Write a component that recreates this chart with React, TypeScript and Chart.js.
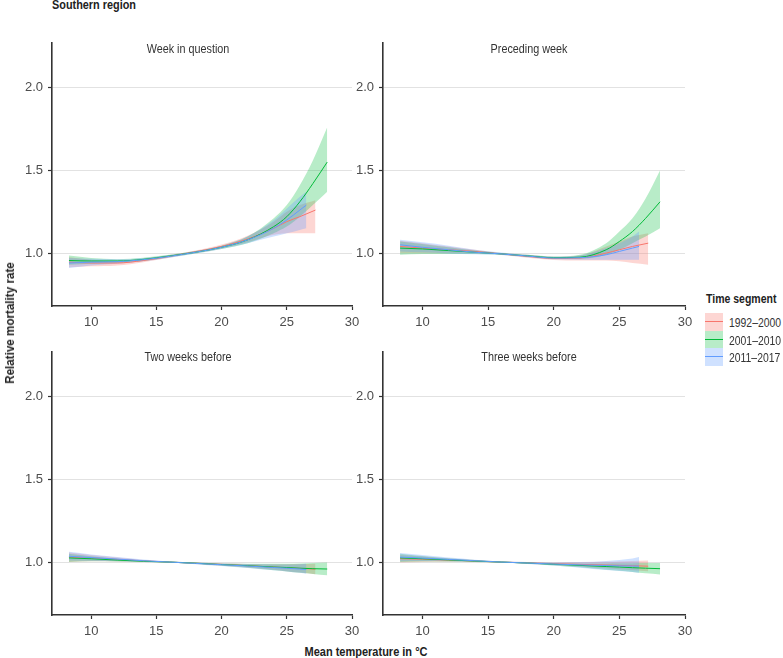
import React, { useEffect, useRef } from "react";
import { Chart, registerables } from "chart.js";

Chart.register(...registerables);

const FONT = "'Liberation Sans Narrow', 'Arial Narrow', 'Liberation Sans', Arial, sans-serif";

// ---------- data ----------
const segments = ["1992–2000", "2001–2010", "2011–2017"];
const lineColors = ["#F8766D", "#00BA38", "#619CFF"];
const bandColors = ["rgba(248,118,109,0.30)", "rgba(0,186,56,0.28)", "rgba(97,156,255,0.30)"];

const xTicks = [10, 15, 20, 25, 30];
const yTicks = [1.0, 1.5, 2.0];

const tempsRed = [8.3, 10, 12, 14, 16, 18, 20, 22, 24, 25, 26, 27.2];
const tempsGreen = [8.3, 10, 12, 14, 16, 18, 20, 22, 24, 25, 26, 27, 28.1];
const tempsBlue = [8.3, 10, 12, 14, 16, 18, 20, 22, 24, 25, 26, 26.5];

const panelTitles = ["Week in question", "Preceding week", "Two weeks before", "Three weeks before"];

// Week in question
const p1RedEst = [0.945, 0.94, 0.94, 0.955, 0.98, 1.008, 1.04, 1.085, 1.15, 1.19, 1.22, 1.26];
const p1RedLo = [0.915, 0.92, 0.925, 0.945, 0.972, 1.0, 1.028, 1.065, 1.11, 1.12, 1.12, 1.12];
const p1RedHi = [0.975, 0.96, 0.955, 0.965, 0.988, 1.016, 1.052, 1.105, 1.19, 1.25, 1.29, 1.32];
const p1GreenEst = [0.955, 0.952, 0.952, 0.962, 0.982, 1.005, 1.035, 1.08, 1.16, 1.22, 1.31, 1.42, 1.55];
const p1GreenLo = [0.93, 0.935, 0.94, 0.952, 0.975, 0.998, 1.025, 1.06, 1.12, 1.16, 1.22, 1.29, 1.37];
const p1GreenHi = [0.985, 0.97, 0.963, 0.972, 0.99, 1.012, 1.045, 1.1, 1.21, 1.29, 1.41, 1.56, 1.76];
const p1BlueEst = [0.94, 0.945, 0.948, 0.96, 0.98, 1.005, 1.035, 1.08, 1.15, 1.2, 1.26, 1.29];
const p1BlueLo = [0.91, 0.925, 0.935, 0.95, 0.972, 0.997, 1.025, 1.06, 1.1, 1.12, 1.14, 1.15];
const p1BlueHi = [0.97, 0.965, 0.962, 0.97, 0.988, 1.013, 1.045, 1.1, 1.2, 1.27, 1.34, 1.37];

// Preceding week
const p2RedEst = [1.04, 1.03, 1.02, 1.01, 0.995, 0.98, 0.968, 0.97, 1.0, 1.02, 1.04, 1.06];
const p2RedLo = [1.0, 1.0, 1.0, 1.0, 0.99, 0.972, 0.958, 0.955, 0.955, 0.95, 0.94, 0.93];
const p2RedHi = [1.075, 1.06, 1.04, 1.02, 1.0, 0.99, 0.978, 0.985, 1.04, 1.07, 1.1, 1.12];
const p2GreenEst = [1.03, 1.025, 1.015, 1.005, 0.995, 0.983, 0.972, 0.975, 1.02, 1.07, 1.13, 1.21, 1.31];
const p2GreenLo = [0.99, 0.995, 0.995, 0.995, 0.99, 0.977, 0.965, 0.965, 0.99, 1.02, 1.06, 1.1, 1.15];
const p2GreenHi = [1.07, 1.055, 1.035, 1.015, 1.0, 0.99, 0.98, 0.99, 1.06, 1.13, 1.21, 1.33, 1.5];
const p2BlueEst = [1.05, 1.035, 1.02, 1.005, 0.995, 0.982, 0.97, 0.972, 0.99, 1.01, 1.03, 1.04];
const p2BlueLo = [1.01, 1.005, 0.998, 0.993, 0.988, 0.975, 0.962, 0.96, 0.96, 0.96, 0.96, 0.96];
const p2BlueHi = [1.08, 1.065, 1.045, 1.02, 1.003, 0.99, 0.978, 0.985, 1.03, 1.06, 1.1, 1.13];

// Two weeks before
const p3RedEst = [1.03, 1.024, 1.016, 1.007, 1.0, 0.993, 0.986, 0.978, 0.97, 0.966, 0.962, 0.957];
const p3RedLo = [1.0, 1.005, 1.004, 1.0, 0.997, 0.988, 0.978, 0.967, 0.953, 0.945, 0.937, 0.927];
const p3RedHi = [1.058, 1.042, 1.027, 1.012, 1.003, 0.998, 0.993, 0.989, 0.987, 0.987, 0.988, 0.99];
const p3GreenEst = [1.025, 1.02, 1.012, 1.005, 1.0, 0.993, 0.985, 0.978, 0.97, 0.967, 0.963, 0.96, 0.958];
const p3GreenLo = [1.0, 1.005, 1.003, 1.0, 0.997, 0.988, 0.978, 0.965, 0.95, 0.943, 0.935, 0.928, 0.92];
const p3GreenHi = [1.05, 1.035, 1.02, 1.01, 1.003, 0.998, 0.992, 0.99, 0.99, 0.99, 0.992, 0.994, 0.997];
const p3BlueEst = [1.035, 1.027, 1.018, 1.008, 1.0, 0.992, 0.984, 0.976, 0.967, 0.963, 0.958, 0.955];
const p3BlueLo = [1.01, 1.008, 1.005, 1.001, 0.997, 0.987, 0.976, 0.964, 0.95, 0.943, 0.935, 0.93];
const p3BlueHi = [1.062, 1.046, 1.03, 1.015, 1.003, 0.997, 0.992, 0.988, 0.985, 0.985, 0.987, 0.99];

// Three weeks before
const p4RedEst = [1.02, 1.017, 1.012, 1.006, 1.0, 0.995, 0.99, 0.986, 0.982, 0.98, 0.978, 0.975];
const p4RedLo = [0.998, 1.0, 1.002, 1.0, 0.997, 0.99, 0.982, 0.972, 0.962, 0.957, 0.951, 0.945];
const p4RedHi = [1.043, 1.034, 1.022, 1.012, 1.003, 1.0, 0.998, 0.999, 1.002, 1.004, 1.007, 1.01];
const p4GreenEst = [1.025, 1.02, 1.013, 1.006, 1.0, 0.994, 0.987, 0.98, 0.973, 0.97, 0.966, 0.963, 0.96];
const p4GreenLo = [1.0, 1.004, 1.003, 1.0, 0.997, 0.99, 0.98, 0.968, 0.954, 0.947, 0.94, 0.932, 0.925];
const p4GreenHi = [1.05, 1.036, 1.023, 1.012, 1.003, 0.998, 0.994, 0.992, 0.992, 0.993, 0.993, 0.994, 0.995];
const p4BlueEst = [1.03, 1.024, 1.016, 1.008, 1.0, 0.994, 0.988, 0.983, 0.979, 0.977, 0.976, 0.975];
const p4BlueLo = [1.005, 1.006, 1.005, 1.002, 0.997, 0.989, 0.979, 0.966, 0.952, 0.946, 0.94, 0.935];
const p4BlueHi = [1.055, 1.042, 1.027, 1.014, 1.003, 1.0, 0.998, 1.0, 1.007, 1.013, 1.022, 1.03];

type Series = { temps: number[]; est: number[]; lo: number[]; hi: number[] };
const panels: Series[][] = [
  [
    { temps: tempsRed, est: p1RedEst, lo: p1RedLo, hi: p1RedHi },
    { temps: tempsGreen, est: p1GreenEst, lo: p1GreenLo, hi: p1GreenHi },
    { temps: tempsBlue, est: p1BlueEst, lo: p1BlueLo, hi: p1BlueHi },
  ],
  [
    { temps: tempsRed, est: p2RedEst, lo: p2RedLo, hi: p2RedHi },
    { temps: tempsGreen, est: p2GreenEst, lo: p2GreenLo, hi: p2GreenHi },
    { temps: tempsBlue, est: p2BlueEst, lo: p2BlueLo, hi: p2BlueHi },
  ],
  [
    { temps: tempsRed, est: p3RedEst, lo: p3RedLo, hi: p3RedHi },
    { temps: tempsGreen, est: p3GreenEst, lo: p3GreenLo, hi: p3GreenHi },
    { temps: tempsBlue, est: p3BlueEst, lo: p3BlueLo, hi: p3BlueHi },
  ],
  [
    { temps: tempsRed, est: p4RedEst, lo: p4RedLo, hi: p4RedHi },
    { temps: tempsGreen, est: p4GreenEst, lo: p4GreenLo, hi: p4GreenHi },
    { temps: tempsBlue, est: p4BlueEst, lo: p4BlueLo, hi: p4BlueHi },
  ],
];

// ---------- layout (plot-area boxes, page pixels) ----------
const plotBoxes = [
  { l: 52, t: 43, r: 352, b: 306 },
  { l: 383, t: 43, r: 685, b: 306 },
  { l: 52, t: 352, r: 352, b: 615 },
  { l: 383, t: 352, r: 685, b: 615 },
];
const titleCenters = [
  { x: 188, y: 48 },
  { x: 529, y: 48 },
  { x: 188, y: 356 },
  { x: 529, y: 356 },
];
const Y_W = 40;
const X_H = 26;
const PAD_T = 2;
const PAD_R = 14;

function pts(xs: number[], ys: number[]) {
  return xs.map((x, i) => ({ x, y: ys[i] }));
}

function buildConfig(series: Series[]): any {
  const datasets: any[] = [];
  series.forEach((s, i) => {
    const loIdx = datasets.length;
    datasets.push({
      data: pts(s.temps, s.lo),
      borderWidth: 0,
      pointRadius: 0,
      fill: false,
      cubicInterpolationMode: "monotone",
      order: 30 - i * 10,
    });
    datasets.push({
      data: pts(s.temps, s.hi),
      borderWidth: 0,
      pointRadius: 0,
      backgroundColor: bandColors[i],
      fill: { target: loIdx },
      cubicInterpolationMode: "monotone",
      order: 30 - i * 10,
    });
  });
  series.forEach((s, i) => {
    datasets.push({
      data: pts(s.temps, s.est),
      borderColor: lineColors[i],
      borderWidth: 1,
      pointRadius: 0,
      fill: false,
      cubicInterpolationMode: "monotone",
      order: 3 - i,
    });
  });
  const tickFont = { family: FONT, size: 13 };
  return {
    type: "line",
    data: { datasets },
    options: {
      animation: false,
      responsive: false,
      events: [],
      layout: { padding: { left: 0, top: PAD_T, right: PAD_R, bottom: 0 } },
      plugins: { legend: { display: false }, tooltip: { enabled: false }, title: { display: false } },
      scales: {
        x: {
          type: "linear",
          min: 7,
          max: 30,
          afterBuildTicks: (s: any) => {
            s.ticks = xTicks.map((v) => ({ value: v }));
          },
          afterFit: (s: any) => {
            s.height = X_H;
            s.paddingLeft = 0;
            s.paddingRight = 0;
          },
          ticks: { font: tickFont, color: "#4d4d4d", padding: 5, maxRotation: 0, autoSkip: false, callback: (v: any) => String(v) },
          grid: { drawOnChartArea: false, drawTicks: true, tickLength: 4, tickColor: "#333", tickWidth: 1.2 },
          border: { display: true, color: "#333", width: 1.6 },
        },
        y: {
          type: "linear",
          min: 0.68,
          max: 2.27,
          afterBuildTicks: (s: any) => {
            s.ticks = yTicks.map((v) => ({ value: v }));
          },
          afterFit: (s: any) => {
            s.width = Y_W;
            s.paddingTop = 0;
            s.paddingBottom = 0;
          },
          ticks: { font: tickFont, color: "#4d4d4d", padding: 5, callback: (v: any) => Number(v).toFixed(1) },
          grid: { color: "#e2e2e2", lineWidth: 1, drawTicks: true, tickLength: 4, tickColor: "#333", tickWidth: 1.2 },
          border: { display: true, color: "#333", width: 1.6 },
        },
      },
    },
  };
}

function Panel({ idx }: { idx: number }) {
  const ref = useRef<HTMLCanvasElement | null>(null);
  const box = plotBoxes[idx];
  const w = box.r - box.l + Y_W + PAD_R;
  const h = box.b - box.t + PAD_T + X_H;
  useEffect(() => {
    if (!ref.current) return;
    const chart = new Chart(ref.current, buildConfig(panels[idx]));
    return () => chart.destroy();
  }, [idx]);
  return (
    <canvas
      ref={ref}
      width={w}
      height={h}
      style={{ position: "absolute", left: box.l - Y_W, top: box.t - PAD_T, width: w, height: h }}
    />
  );
}

const boldText: React.CSSProperties = { position: "absolute", fontWeight: "bold", fontSize: 12.5, color: "#222", whiteSpace: "nowrap" };

export default function App() {
  return (
    <div style={{ position: "absolute", left: 0, top: 0, width: 783, height: 658, background: "#fff", fontFamily: FONT, overflow: "hidden" }}>
      <div style={{ ...boldText, left: 52, top: 5, transform: "translateY(-50%) scaleX(0.87)", transformOrigin: "left center" }}>
        Southern region
      </div>
      {panelTitles.map((t, i) => (
        <div
          key={t}
          style={{
            position: "absolute",
            left: titleCenters[i].x,
            top: titleCenters[i].y,
            transform: "translate(-50%, -50%) scaleX(0.83)",
            fontSize: 13,
            color: "#333",
            whiteSpace: "nowrap",
            zIndex: 2,
          }}
        >
          {t}
        </div>
      ))}
      {[0, 1, 2, 3].map((i) => (
        <Panel key={i} idx={i} />
      ))}
      <div style={{ ...boldText, left: 10, top: 323, transform: "translate(-50%, -50%) rotate(-90deg) scaleX(0.93)" }}>
        Relative mortality rate
      </div>
      <div style={{ ...boldText, left: 366, top: 652, transform: "translate(-50%, -50%) scaleX(0.88)" }}>
        Mean temperature in °C
      </div>
      <div style={{ ...boldText, left: 706, top: 299, transform: "translateY(-50%) scaleX(0.84)", transformOrigin: "left center" }}>
        Time segment
      </div>
      {segments.map((s, i) => (
        <div key={s} style={{ position: "absolute", left: 705, top: 313 + i * 17.5, height: 17.5, width: 80 }}>
          <div style={{ position: "absolute", left: 0, top: 0, width: 18, height: 17.5, background: bandColors[i] }}>
            <div style={{ position: "absolute", left: 0, right: 0, top: 8, height: 1, background: lineColors[i] }} />
          </div>
          <div
            style={{
              position: "absolute",
              left: 24,
              top: 9,
              transform: "translateY(-50%) scaleX(0.8)",
              transformOrigin: "left center",
              fontSize: 13,
              color: "#333",
              whiteSpace: "nowrap",
            }}
          >
            {s}
          </div>
        </div>
      ))}
    </div>
  );
}
